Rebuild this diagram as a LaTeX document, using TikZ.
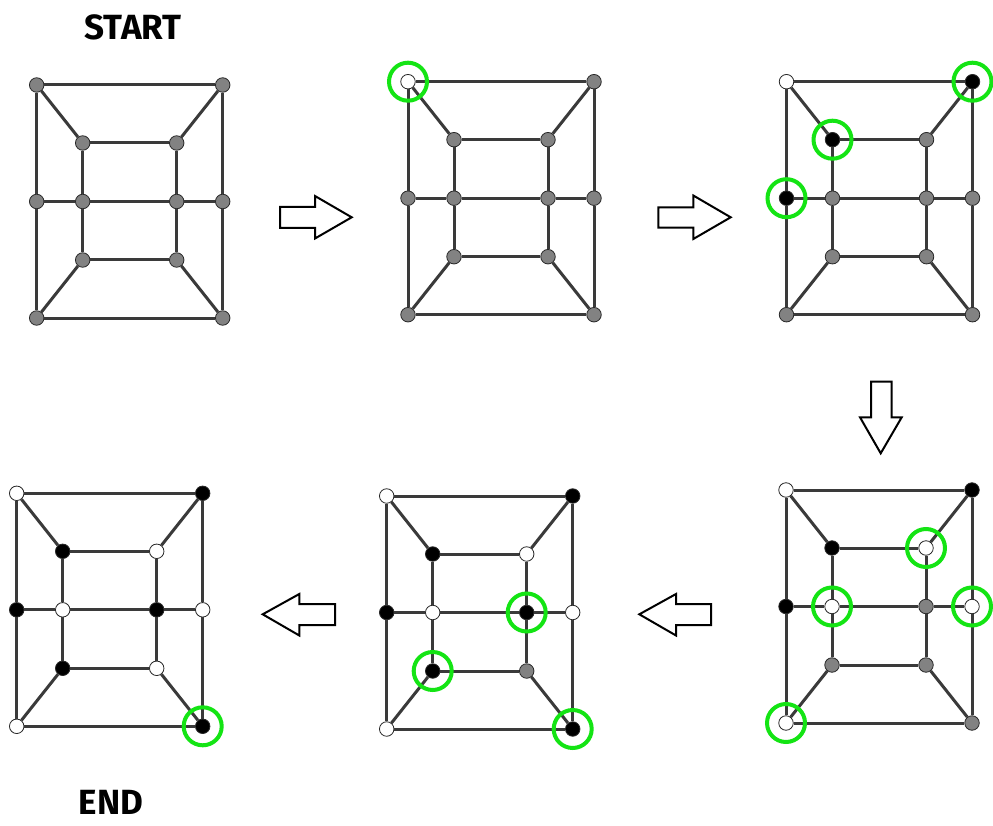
\documentclass[tikz,border=0pt]{standalone}
\usepackage{fontspec}
\setmainfont{Fira Sans}
\begin{document}
\begin{tikzpicture}[x=1pt,y=-1pt,
  edge/.style={draw={rgb,255:red,58;green,58;blue,58},line width=3pt},
  vtx/.style={circle,draw={rgb,255:red,40;green,40;blue,40},line width=0.8pt,minimum size=14.5pt,inner sep=0pt},
  hl/.style={circle,draw={rgb,255:red,20;green,228;blue,20},line width=4pt,minimum size=38pt,inner sep=0pt},
  blockarrow/.style={draw=black,fill=white,line width=2pt,line join=miter},
  title/.style={font=\bfseries\fontsize{35}{40}\selectfont}]
\useasboundingbox (0,0) rectangle (993,826);
\fill[white] (0,0) rectangle (993,826);
\definecolor{G}{RGB}{130,130,130}
\definecolor{W}{RGB}{255,255,255}
\definecolor{B}{RGB}{0,0,0}
\newcommand\hgraph[4]{%
  \begin{scope}[shift={(#2,#3)}]
  \foreach \k/\px/\py in {otl/0/0, otr/186/0, obl/0/233, obr/186/233,
      itl/46/58, itr/140/58, ibl/46/175, ibr/140/175,
      oml/0/116.5, omr/186/116.5, iml/46/116.5, imr/140/116.5}
    \coordinate (#1p\k) at (\px,\py);
  \end{scope}
  \foreach \k/\c in {#4} \node[vtx,fill=\c] (#1\k) at (#1p\k) {};
  \foreach \a/\b in {otl/otr, otr/omr, omr/obr, obr/obl, obl/oml, oml/otl,
      itl/itr, itr/imr, imr/ibr, ibr/ibl, ibl/iml, iml/itl,
      oml/iml, iml/imr, imr/omr, otl/itl, otr/itr, obl/ibl, obr/ibr}
    \draw[edge] (#1\a) -- (#1\b);
}
% graph 1
\hgraph{ga}{36.7}{85}{otl/G,otr/G,obl/G,obr/G,itl/G,itr/G,ibl/G,ibr/G,oml/G,omr/G,iml/G,imr/G}
% graph 2
\hgraph{gb}{408}{81.7}{otl/W,otr/G,obl/G,obr/G,itl/G,itr/G,ibl/G,ibr/G,oml/G,omr/G,iml/G,imr/G}
\node[hl] (gbh1) at (gbotl) {};
% graph 3
\hgraph{gc}{786.5}{81.7}{otl/W,otr/B,obl/G,obr/G,itl/B,itr/G,ibl/G,ibr/G,oml/B,omr/G,iml/G,imr/G}
\node[hl] (gch1) at (gcotr) {};
\node[hl] (gch2) at (gcitl) {};
\node[hl] (gch3) at (gcoml) {};
% graph 4
\hgraph{gd}{786}{490}{otl/W,otr/B,obl/W,obr/G,itl/B,itr/W,ibl/G,ibr/G,oml/B,omr/W,iml/W,imr/G}
\node[hl] (gdh1) at (gditr) {};
\node[hl] (gdh2) at (gdiml) {};
\node[hl] (gdh3) at (gdomr) {};
\node[hl] (gdh4) at (gdobl) {};
% graph 5
\hgraph{ge}{386.7}{496}{otl/W,otr/B,obl/W,obr/B,itl/B,itr/W,ibl/B,ibr/G,oml/B,omr/W,iml/W,imr/B}
\node[hl] (geh1) at (geimr) {};
\node[hl] (geh2) at (geibl) {};
\node[hl] (geh3) at (geobr) {};
% graph 6
\hgraph{gf}{16.7}{493.3}{otl/W,otr/B,obl/W,obr/B,itl/B,itr/W,ibl/B,ibr/W,oml/B,omr/W,iml/W,imr/B}
\node[hl] (gfh1) at (gfobr) {};
% titles
\node[title] (start) at (133,27) {START};
\node[title] (end) at (111,802) {END};
% block arrows
\draw[blockarrow] (280,207) -- (315,207) -- (315,196) -- (351.7,217.3) -- (315,238.5) -- (315,228) -- (280,228) -- cycle;
\draw[blockarrow] (658.3,207.3) -- (693.3,207.3) -- (693.3,195.5) -- (730.7,217.3) -- (693.3,239) -- (693.3,227.7) -- (658.3,227.7) -- cycle;
\draw[blockarrow] (871,381.7) -- (891.5,381.7) -- (891.5,417.3) -- (901.7,417.3) -- (880.7,453.3) -- (860,417.3) -- (871,417.3) -- cycle;
\draw[blockarrow] (711,604) -- (676,604) -- (676,594) -- (639.3,614.3) -- (676,635.5) -- (676,625) -- (711,625) -- cycle;
\draw[blockarrow] (335,604) -- (299.3,604) -- (299.3,594) -- (262.7,614.3) -- (299.3,635.5) -- (299.3,625) -- (335,625) -- cycle;
\end{tikzpicture}
\end{document}
